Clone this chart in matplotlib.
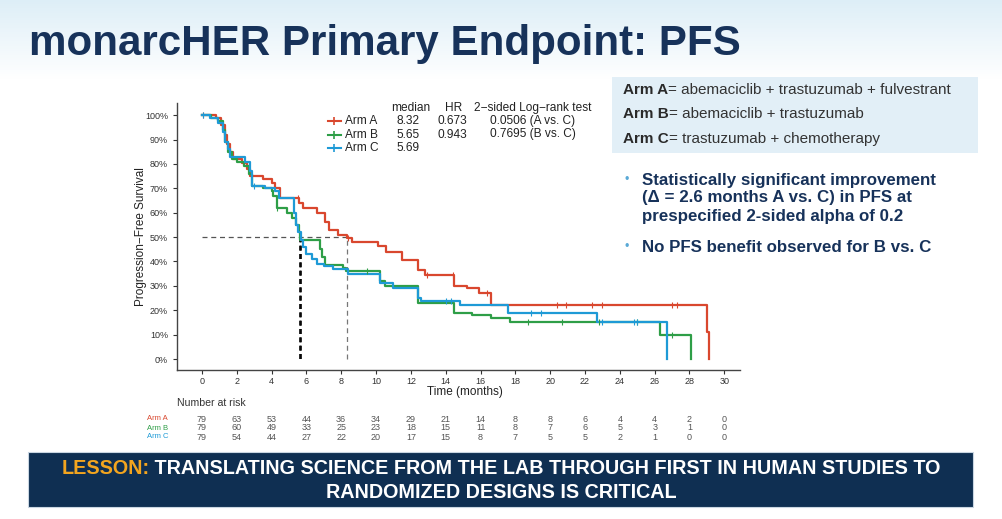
import numpy as np
import matplotlib
matplotlib.use("Agg")
import matplotlib.pyplot as plt
from matplotlib.lines import Line2D
from matplotlib.patches import Rectangle
import matplotlib.transforms as mtransforms

W, H = 1003, 519

# Kaplan-Meier step data (time in months, survival in %)
times_a = [0, 0.8, 1.1, 1.3, 1.45, 1.6, 1.8, 2.3, 2.6, 2.75, 3.5, 4.0, 4.2, 4.5,
           5.6, 5.8, 6.6, 7.05, 7.3, 7.8, 8.32, 8.6, 10.1, 10.6, 11.5, 12.4, 12.8,
           14.5, 15.2, 15.9, 16.6, 29.0, 29.1]
surv_a = [100, 98.7, 96, 92, 88, 85, 82, 80.5, 78, 75, 74, 72, 70, 66,
          64, 62, 60, 56, 53, 51, 49.5, 48, 46.5, 44, 40.5, 36.5, 34.5,
          30, 29, 27, 22, 11, 0]
cens_a = [0.05, 5.5, 8.4, 12.95, 14.4, 16.4, 20.4, 20.9, 22.4, 23.0, 27.0, 27.3]

times_b = [0, 0.5, 0.9, 1.2, 1.35, 1.5, 1.7, 2.0, 2.4, 2.7, 2.9, 3.5, 4.0, 4.1,
           4.3, 4.9, 5.2, 5.4, 5.55, 5.65, 6.8, 6.9, 7.05, 8.1, 8.3, 10.2, 10.5,
           12.4, 14.5, 15.5, 16.6, 17.7, 26.3, 28.1]
surv_b = [100, 98.7, 97.5, 94, 89, 85, 82, 81, 79, 76, 71, 70, 69, 67,
          62, 60, 58, 55, 52, 49, 45, 42, 38.5, 37.5, 36, 32, 30,
          23, 19, 18, 17, 15, 10, 0]
cens_b = [4.3, 9.5, 18.7, 20.7, 22.8, 25.0, 27.0]

times_c = [0, 0.45, 0.9, 1.2, 1.35, 1.5, 1.6, 2.5, 2.75, 2.9, 3.6, 4.2, 4.4,
           5.3, 5.4, 5.5, 5.69, 5.8, 6.0, 6.3, 6.6, 7.0, 7.5, 8.4, 10.2, 11.0,
           12.4, 12.6, 14.8, 17.6, 22.7, 26.7]
surv_c = [100, 98.7, 97, 93, 89, 86, 83, 81, 77, 71, 70, 69, 66,
          60, 55, 52, 49, 46, 43, 41, 39, 38, 37, 35, 31, 29,
          25, 24, 22, 19, 15, 0]
cens_c = [0.05, 3.0, 14.0, 14.3, 18.9, 19.5, 23.0, 24.8, 25.0]

arm_names = ["Arm A", "Arm B", "Arm C"]
arm_colors = ["#d9472e", "#2e9e47", "#1e9ad6"]
medians = ["8.32", "5.65", "5.69"]
hrs = ["0.673", "0.943", ""]
logrank = ["0.0506 (A vs. C)", "0.7695 (B vs. C)", ""]
median_vals = [8.32, 5.65, 5.69]

risk_times = list(range(0, 31, 2))
risk_a = [79, 63, 53, 44, 36, 34, 29, 21, 14, 8, 8, 6, 4, 4, 2, 0]
risk_b = [79, 60, 49, 33, 25, 23, 18, 15, 11, 8, 7, 6, 5, 3, 1, 0]
risk_c = [79, 54, 44, 27, 22, 20, 17, 15, 8, 7, 5, 5, 2, 1, 0, 0]

arm_defs = ["abemaciclib + trastuzumab + fulvestrant",
            "abemaciclib + trastuzumab",
            "trastuzumab + chemotherapy"]
bullet1 = ["Statistically significant improvement",
           "(\u0394 = 2.6 months A vs. C) in PFS at",
           "prespecified 2-sided alpha of 0.2"]
bullet2 = ["No PFS benefit observed for B vs. C"]

plt.rcParams['font.family'] = ['Liberation Sans', 'DejaVu Sans']


def fx(x):
    return x / W


def fy(y):
    return 1 - y / H


fig = plt.figure(figsize=(W / 100, H / 100), dpi=100)

# slide background: light blue fading to white at the top
bg = fig.add_axes([0, 0, 1, 1])
grad = np.linspace(0, 1, 200)[:, None]
top = np.array([0.87, 0.935, 0.97])
cols = top + (1 - top) * np.clip(grad / 0.15, 0, 1)[..., None]
bg.imshow(np.repeat(cols, 2, axis=1), aspect='auto', extent=[0, 1, 0, 1],
          origin='upper', zorder=0)
bg.set_xlim(0, 1)
bg.set_ylim(0, 1)
bg.axis('off')

fig.text(fx(29), fy(44), "monarcHER Primary Endpoint: PFS", fontsize=30.3,
         fontweight='bold', color='#17325a', va='center', ha='left')

# KM plot
ax = fig.add_axes([fx(177), fy(370), fx(740) - fx(177), fy(103) - fy(370)])
ax.set_facecolor('none')
curves = [(times_a, surv_a, cens_a), (times_b, surv_b, cens_b), (times_c, surv_c, cens_c)]
for (t, s, c), col in zip(curves, arm_colors):
    ax.step(t, s, where='post', color=col, lw=1.6, zorder=3)
    cy = [s[np.searchsorted(t, ci, side='right') - 1] for ci in c]
    ax.plot(c, cy, ls='none', marker='|', ms=5, mew=0.8, color=col, zorder=4)

ax.plot([0, median_vals[0]], [50, 50], color='#555555', lw=0.9, ls=(0, (4, 3)), zorder=2)
ax.plot([median_vals[0]] * 2, [0, 50], color='#777777', lw=0.9, ls=(0, (4, 3)), zorder=2)
for m in median_vals[1:]:
    ax.plot([m, m], [0, 50], color='black', lw=1.2, ls=(0, (3, 2)), zorder=2)

ax.set_xlim(-1.43, 30.9)
ax.set_ylim(-4.5, 105)
ax.set_xticks(risk_times)
ax.set_yticks(range(0, 101, 10))
ax.set_yticklabels([f"{v}%" for v in range(0, 101, 10)])
ax.tick_params(labelsize=6.5, colors='#333333', length=3, width=0.8)
ax.tick_params(axis='x', pad=2)
for sp in ['top', 'right']:
    ax.spines[sp].set_visible(False)
for sp in ['left', 'bottom']:
    ax.spines[sp].set_color('#444444')
    ax.spines[sp].set_linewidth(1.0)
ax.set_xlabel("Time (months)", fontsize=8.5, color='#222222')
ax.xaxis.set_label_coords((465 - 177) / (740 - 177), -(392 - 370) / (370 - 103), transform=ax.transAxes)
ax.xaxis.label.set_va('center')
ax.set_ylabel("Progression\u2212Free Survival", fontsize=8.5, color='#222222')
ax.yaxis.set_label_coords(-(177 - 141) / (740 - 177), 0.5, transform=ax.transAxes)
ax.yaxis.label.set_va('center')

# legend table inside the plot
fs_leg = 8.6
hdr_y = fy(108)
fig.text(fx(411), hdr_y, "median", fontsize=fs_leg, ha='center', va='center', color='#222222')
fig.text(fx(454), hdr_y, "HR", fontsize=fs_leg, ha='center', va='center', color='#222222')
fig.text(fx(533), hdr_y, "2\u2212sided Log\u2212rank test", fontsize=fs_leg, ha='center', va='center', color='#222222')
for i, name in enumerate(arm_names):
    yy = fy(121 + 13.5 * i)
    fig.add_artist(Line2D([fx(328), fx(341)], [yy, yy], color=arm_colors[i], lw=1.5))
    fig.add_artist(Line2D([fx(334.5)], [yy], marker='+', ms=6, mew=1.2, color=arm_colors[i]))
    fig.text(fx(345), yy, name, fontsize=fs_leg, ha='left', va='center', color='#222222')
    fig.text(fx(408), yy, medians[i], fontsize=fs_leg, ha='center', va='center', color='#222222')
    fig.text(fx(452), yy, hrs[i], fontsize=fs_leg, ha='center', va='center', color='#222222')
    fig.text(fx(533), yy, logrank[i], fontsize=fs_leg, ha='center', va='center', color='#222222')

# number at risk table
risk_tr = mtransforms.blended_transform_factory(ax.transData, fig.transFigure)
fig.text(fx(177), fy(403), "Number at risk", fontsize=7.6, ha='left', va='center', color='#333333')
for i, row in enumerate([risk_a, risk_b, risk_c]):
    yy = fy(419 + 9 * i)
    fig.text(fx(147), yy, arm_names[i], fontsize=5.5, ha='left', va='center', color=arm_colors[i])
    for t, n in zip(risk_times, row):
        ax.text(t, yy, str(n), transform=risk_tr, fontsize=6.5, ha='center', va='center',
                color='#555555', clip_on=False)

# arm definitions box
bg.add_patch(Rectangle((fx(612), fy(153)), fx(978) - fx(612), fy(77) - fy(153),
                       transform=bg.transAxes, facecolor='#e2eff7', edgecolor='none', zorder=1))
for i, (name, txt) in enumerate(zip(arm_names, arm_defs)):
    yy = fy(90 + 24.5 * i)
    t1 = bg.text(fx(623), yy, name, fontsize=11, fontweight='bold', color='#2a2a2a',
                 ha='left', va='center', transform=bg.transAxes, zorder=2)
    bg.annotate("= " + txt, xy=(1, 0), xycoords=t1, ha='left', va='bottom',
                fontsize=11, color='#333333', zorder=2)

# bullet points
for lines, y0 in [(bullet1, 180), (bullet2, 247)]:
    fig.text(fx(627), fy(y0), "\u2022", fontsize=9, color='#5aa9d6', ha='center', va='center')
    for k, line in enumerate(lines):
        fig.text(fx(642), fy(y0 + 18 * k), line, fontsize=12.2, fontweight='bold',
                 color='#17325a', ha='left', va='center')

# lesson banner
bg.add_patch(Rectangle((fx(28), fy(507)), fx(973) - fx(28), fy(452) - fy(507),
                       transform=bg.transAxes, facecolor='#0f2f52', edgecolor='#c9d6e2',
                       lw=0.8, zorder=1))
fs_ban = 14.2
head = "LESSON:"
rest = " TRANSLATING SCIENCE FROM THE LAB THROUGH FIRST IN HUMAN STUDIES TO"
# measure both parts so that the combined first line is centred
probe = bg.text(0, 0, head + rest, fontsize=fs_ban, fontweight='bold')
probe_h = bg.text(0, 0, head, fontsize=fs_ban, fontweight='bold')
fig.canvas.draw()
w_all = probe.get_window_extent().width
w_head = probe_h.get_window_extent().width
probe.remove()
probe_h.remove()
x_start = 501 - w_all / 2
bg.text(fx(x_start), fy(469), head, fontsize=fs_ban, fontweight='bold', color='#f3a51f',
        ha='left', va='center', transform=bg.transAxes, zorder=2)
bg.text(fx(x_start + w_head), fy(469), rest, fontsize=fs_ban, fontweight='bold', color='white',
        ha='left', va='center', transform=bg.transAxes, zorder=2)
bg.text(fx(501), fy(493), "RANDOMIZED DESIGNS IS CRITICAL", fontsize=fs_ban, fontweight='bold',
        color='white', ha='center', va='center', transform=bg.transAxes, zorder=2)

fig.savefig("out.png", dpi=100)
